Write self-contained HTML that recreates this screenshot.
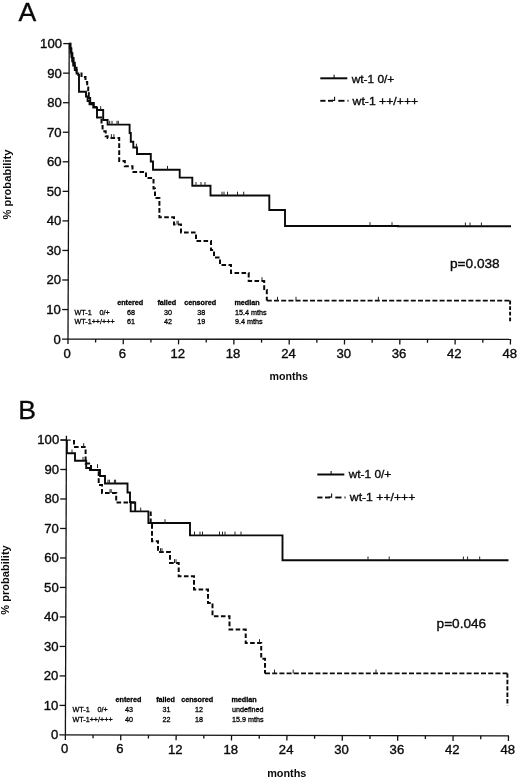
<!DOCTYPE html>
<html><head><meta charset="utf-8"><title>Figure</title>
<style>
html,body{margin:0;padding:0;background:#fff;}
body{width:520px;height:780px;position:relative;overflow:hidden;font-family:"Liberation Sans",sans-serif;}
</style></head><body>
<svg width="520" height="780" viewBox="0 0 520 780" style="position:absolute;left:0;top:0;will-change:transform;opacity:0.999" font-family="Liberation Sans, sans-serif" fill="#0a0a0a" stroke="#0a0a0a" stroke-width="0.35"><text x="18.6" y="20.8" font-size="26.6">A</text><line x1="69.20" y1="43.6" x2="67.98" y2="344.1" stroke="#111" stroke-width="1.3"/><line x1="62.00" y1="339.1" x2="511.1" y2="339.40000000000003" stroke="#111" stroke-width="1.3"/><text x="60.80" y="343.50" text-anchor="end" font-size="12.4" textLength="7.3" lengthAdjust="spacingAndGlyphs">0</text><line x1="62.12" y1="309.55" x2="68.12" y2="309.55" stroke="#111" stroke-width="1.3"/><text x="60.92" y="313.95" text-anchor="end" font-size="12.4" textLength="14.6" lengthAdjust="spacingAndGlyphs">10</text><line x1="62.24" y1="280.00" x2="68.24" y2="280.00" stroke="#111" stroke-width="1.3"/><text x="61.04" y="284.40" text-anchor="end" font-size="12.4" textLength="14.6" lengthAdjust="spacingAndGlyphs">20</text><line x1="62.36" y1="250.45" x2="68.36" y2="250.45" stroke="#111" stroke-width="1.3"/><text x="61.16" y="254.85" text-anchor="end" font-size="12.4" textLength="14.6" lengthAdjust="spacingAndGlyphs">30</text><line x1="62.48" y1="220.90" x2="68.48" y2="220.90" stroke="#111" stroke-width="1.3"/><text x="61.28" y="225.30" text-anchor="end" font-size="12.4" textLength="14.6" lengthAdjust="spacingAndGlyphs">40</text><line x1="62.60" y1="191.35" x2="68.60" y2="191.35" stroke="#111" stroke-width="1.3"/><text x="61.40" y="195.75" text-anchor="end" font-size="12.4" textLength="14.6" lengthAdjust="spacingAndGlyphs">50</text><line x1="62.72" y1="161.80" x2="68.72" y2="161.80" stroke="#111" stroke-width="1.3"/><text x="61.52" y="166.20" text-anchor="end" font-size="12.4" textLength="14.6" lengthAdjust="spacingAndGlyphs">60</text><line x1="62.84" y1="132.25" x2="68.84" y2="132.25" stroke="#111" stroke-width="1.3"/><text x="61.64" y="136.65" text-anchor="end" font-size="12.4" textLength="14.6" lengthAdjust="spacingAndGlyphs">70</text><line x1="62.96" y1="102.70" x2="68.96" y2="102.70" stroke="#111" stroke-width="1.3"/><text x="61.76" y="107.10" text-anchor="end" font-size="12.4" textLength="14.6" lengthAdjust="spacingAndGlyphs">80</text><line x1="63.08" y1="73.15" x2="69.08" y2="73.15" stroke="#111" stroke-width="1.3"/><text x="61.88" y="77.55" text-anchor="end" font-size="12.4" textLength="14.6" lengthAdjust="spacingAndGlyphs">90</text><line x1="63.20" y1="43.60" x2="69.20" y2="43.60" stroke="#111" stroke-width="1.3"/><text x="62.00" y="48.00" text-anchor="end" font-size="12.4" textLength="21.9" lengthAdjust="spacingAndGlyphs">100</text><line x1="95.66" y1="339.12" x2="95.59" y2="342.52" stroke="#111" stroke-width="1.3"/><line x1="123.31" y1="339.14" x2="123.21" y2="344.34" stroke="#111" stroke-width="1.3"/><line x1="150.97" y1="339.16" x2="150.90" y2="342.56" stroke="#111" stroke-width="1.3"/><line x1="178.62" y1="339.18" x2="178.52" y2="344.38" stroke="#111" stroke-width="1.3"/><line x1="206.28" y1="339.19" x2="206.21" y2="342.59" stroke="#111" stroke-width="1.3"/><line x1="233.94" y1="339.21" x2="233.83" y2="344.41" stroke="#111" stroke-width="1.3"/><line x1="261.59" y1="339.23" x2="261.53" y2="342.63" stroke="#111" stroke-width="1.3"/><line x1="289.25" y1="339.25" x2="289.15" y2="344.45" stroke="#111" stroke-width="1.3"/><line x1="316.91" y1="339.27" x2="316.84" y2="342.67" stroke="#111" stroke-width="1.3"/><line x1="344.56" y1="339.29" x2="344.46" y2="344.49" stroke="#111" stroke-width="1.3"/><line x1="372.22" y1="339.31" x2="372.15" y2="342.71" stroke="#111" stroke-width="1.3"/><line x1="399.88" y1="339.33" x2="399.77" y2="344.53" stroke="#111" stroke-width="1.3"/><line x1="427.53" y1="339.34" x2="427.46" y2="342.74" stroke="#111" stroke-width="1.3"/><line x1="455.19" y1="339.36" x2="455.08" y2="344.56" stroke="#111" stroke-width="1.3"/><line x1="482.84" y1="339.38" x2="482.78" y2="342.78" stroke="#111" stroke-width="1.3"/><line x1="510.50" y1="339.40" x2="510.40" y2="344.60" stroke="#111" stroke-width="1.3"/><text x="67.20" y="357.50" text-anchor="middle" font-size="12.4" textLength="7.3" lengthAdjust="spacingAndGlyphs">0</text><text x="122.51" y="357.54" text-anchor="middle" font-size="12.4" textLength="7.3" lengthAdjust="spacingAndGlyphs">6</text><text x="177.82" y="357.57" text-anchor="middle" font-size="12.4" textLength="14.6" lengthAdjust="spacingAndGlyphs">12</text><text x="233.14" y="357.61" text-anchor="middle" font-size="12.4" textLength="14.6" lengthAdjust="spacingAndGlyphs">18</text><text x="288.45" y="357.65" text-anchor="middle" font-size="12.4" textLength="14.6" lengthAdjust="spacingAndGlyphs">24</text><text x="343.76" y="357.69" text-anchor="middle" font-size="12.4" textLength="14.6" lengthAdjust="spacingAndGlyphs">30</text><text x="399.07" y="357.73" text-anchor="middle" font-size="12.4" textLength="14.6" lengthAdjust="spacingAndGlyphs">36</text><text x="454.39" y="357.76" text-anchor="middle" font-size="12.4" textLength="14.6" lengthAdjust="spacingAndGlyphs">42</text><text x="509.70" y="357.80" text-anchor="middle" font-size="12.4" textLength="14.6" lengthAdjust="spacingAndGlyphs">48</text><path d="M69.20,43.60 L69.80,43.60 L69.80,48.00 L70.60,48.00 L70.60,52.40 L71.40,52.40 L71.40,56.80 L72.20,56.80 L72.20,61.20 L73.20,61.20 L73.20,65.60 L74.80,65.60 L74.80,70.00 L76.60,70.00 L76.60,73.50 L78.30,73.50 L78.30,75.00 L79.00,75.00 L79.00,91.80 L86.00,91.80 L86.00,96.50 L87.60,96.50 L87.60,101.00 L89.50,101.00 L89.50,104.40 L93.30,104.40 L93.30,107.50 L97.00,107.50 L97.00,110.00 L103.20,110.00 L103.20,120.00 L107.60,120.00 L107.60,124.60 L129.60,124.60 L129.60,133.00 L130.80,133.00 L130.80,141.80 L133.30,141.80 L133.30,147.50 L137.00,147.50 L137.00,154.00 L150.80,154.00 L150.80,161.50 L153.00,161.50 L153.00,169.70 L179.70,169.70 L179.70,177.60 L192.30,177.60 L192.30,185.80 L210.50,185.80 L210.50,195.50 L269.30,195.50 L269.30,210.00 L285.00,210.00 L285.00,226.00 L398.00,226.00 L398.00,226.30 L511.00,226.30" fill="none" stroke="#0a0a0a" stroke-width="1.9"/><path d="M69.20,43.60 L70.60,43.60 L70.60,48.40 L71.40,48.40 L71.40,53.20 L72.40,53.20 L72.40,58.00 L73.60,58.00 L73.60,62.80 L74.80,62.80 L74.80,67.60 L76.60,67.60 L76.60,72.40" fill="none" stroke="#0a0a0a" stroke-width="1.9"/><path d="M81.50,72.40 L81.50,77.00 L85.50,77.00 L85.50,82.00 L87.20,82.00 L87.20,87.50 L88.20,87.50 L88.20,93.00" fill="none" stroke="#0a0a0a" stroke-width="2" stroke-dasharray="4.6 2.4"/><path d="M88.20,93.00 L88.80,93.00 L88.80,98.00 L90.20,98.00 L90.20,103.00 L93.80,103.00 L93.80,107.00 L97.00,107.00" fill="none" stroke="#0a0a0a" stroke-width="1.9"/><path d="M97,107 V117.5 H102.5" fill="none" stroke="#0a0a0a" stroke-width="1.9"/><path d="M101.50,117.50 L101.50,126.00 L102.60,126.00 L102.60,131.20 L105.70,131.20 L105.70,136.20 L107.60,136.20 L107.60,138.00 L119.20,138.00 L119.20,161.00 L124.80,161.00 L124.80,166.30 L132.50,166.30 L132.50,172.00 L146.00,172.00 L146.00,178.00 L153.50,178.00 L153.50,188.50 L155.00,188.50 L155.00,198.00 L159.40,198.00 L159.40,217.30 L174.00,217.30 L174.00,224.60 L181.00,224.60 L181.00,232.50 L196.00,232.50 L196.00,241.00 L211.00,241.00 L211.00,250.00 L214.00,250.00 L214.00,257.50 L220.00,257.50 L220.00,265.00 L231.00,265.00 L231.00,273.00 L248.70,273.00 L248.70,281.00 L264.20,281.00 L264.20,290.00 L266.80,290.00 L266.80,300.60" fill="none" stroke="#0a0a0a" stroke-width="2" stroke-dasharray="4.6 2.4" stroke-dashoffset="-1.5"/><path d="M266.80,300.60 L510.10,300.60" fill="none" stroke="#0a0a0a" stroke-width="1.9" stroke-dasharray="5 2.2"/><path d="M510.10,300.60 L510.10,321.40" fill="none" stroke="#0a0a0a" stroke-width="1.9" stroke-dasharray="3.8 1.8"/><line x1="100.7" y1="110" x2="100.7" y2="106.2" stroke="#222" stroke-width="1.0"/><line x1="109.7" y1="124.6" x2="109.7" y2="120.8" stroke="#222" stroke-width="1.0"/><line x1="112" y1="124.6" x2="112" y2="120.8" stroke="#222" stroke-width="1.0"/><line x1="117" y1="124.6" x2="117" y2="120.8" stroke="#222" stroke-width="1.0"/><line x1="118.3" y1="124.6" x2="118.3" y2="120.8" stroke="#222" stroke-width="1.0"/><line x1="136.4" y1="147.5" x2="136.4" y2="143.7" stroke="#222" stroke-width="1.0"/><line x1="167.5" y1="169.7" x2="167.5" y2="165.89999999999998" stroke="#222" stroke-width="1.0"/><line x1="196" y1="185.8" x2="196" y2="182.0" stroke="#222" stroke-width="1.0"/><line x1="201" y1="185.8" x2="201" y2="182.0" stroke="#222" stroke-width="1.0"/><line x1="205" y1="185.8" x2="205" y2="182.0" stroke="#222" stroke-width="1.0"/><line x1="222" y1="195.5" x2="222" y2="191.7" stroke="#222" stroke-width="1.0"/><line x1="224" y1="195.5" x2="224" y2="191.7" stroke="#222" stroke-width="1.0"/><line x1="227.5" y1="195.5" x2="227.5" y2="191.7" stroke="#222" stroke-width="1.0"/><line x1="237.5" y1="195.5" x2="237.5" y2="191.7" stroke="#222" stroke-width="1.0"/><line x1="243.7" y1="195.5" x2="243.7" y2="191.7" stroke="#222" stroke-width="1.0"/><line x1="370" y1="226" x2="370" y2="222.2" stroke="#222" stroke-width="1.0"/><line x1="392" y1="226" x2="392" y2="222.2" stroke="#222" stroke-width="1.0"/><line x1="465.4" y1="226.3" x2="465.4" y2="222.5" stroke="#222" stroke-width="1.0"/><line x1="470" y1="226.3" x2="470" y2="222.5" stroke="#222" stroke-width="1.0"/><line x1="481.4" y1="226.3" x2="481.4" y2="222.5" stroke="#222" stroke-width="1.0"/><line x1="111.4" y1="138" x2="111.4" y2="134.2" stroke="#222" stroke-width="1.0"/><line x1="113.9" y1="138" x2="113.9" y2="134.2" stroke="#222" stroke-width="1.0"/><line x1="177" y1="224.6" x2="177" y2="220.79999999999998" stroke="#222" stroke-width="1.0"/><line x1="178.2" y1="224.6" x2="178.2" y2="220.79999999999998" stroke="#222" stroke-width="1.0"/><line x1="262" y1="281" x2="262" y2="277.2" stroke="#222" stroke-width="1.0"/><line x1="277.5" y1="300.6" x2="277.5" y2="296.8" stroke="#222" stroke-width="1.0"/><line x1="296" y1="300.6" x2="296" y2="296.8" stroke="#222" stroke-width="1.0"/><line x1="378.4" y1="300.6" x2="378.4" y2="296.8" stroke="#222" stroke-width="1.0"/><text transform="translate(11.3,184.6) rotate(-90)" text-anchor="middle" font-size="11.1" font-weight="bold" stroke="none" textLength="70" lengthAdjust="spacingAndGlyphs">% probability</text><text x="288.7" y="380.2" text-anchor="middle" font-size="10.9" font-weight="bold" stroke="none" textLength="38.4" lengthAdjust="spacingAndGlyphs">months</text><line x1="320.3" y1="78.3" x2="347.3" y2="78.3" stroke="#0a0a0a" stroke-width="2"/><line x1="334.1" y1="78.3" x2="334.1" y2="74.7" stroke="#111" stroke-width="1.1"/><line x1="320.3" y1="100.8" x2="325.5" y2="100.8" stroke="#0a0a0a" stroke-width="1.9"/><line x1="328.0" y1="100.8" x2="333.0" y2="100.8" stroke="#0a0a0a" stroke-width="1.9"/><line x1="338.3" y1="100.8" x2="344.5" y2="100.8" stroke="#0a0a0a" stroke-width="1.9"/><line x1="347.5" y1="100.8" x2="348.5" y2="100.8" stroke="#0a0a0a" stroke-width="1.9"/><path d="M331.8,100.39999999999999 H334.6 V96.8" fill="none" stroke="#111" stroke-width="1.1"/><text x="351.7" y="82.7" font-size="11.5" textLength="42.6" lengthAdjust="spacingAndGlyphs">wt-1 0/+</text><text x="352.6" y="104.8" font-size="11.5" textLength="65.6" lengthAdjust="spacingAndGlyphs">wt-1 ++/+++</text><text x="450" y="267.6" font-size="13.3" textLength="49.7" lengthAdjust="spacingAndGlyphs">p=0.038</text><g font-size="7.2" fill="#000" stroke="#000" stroke-width="0.3"><text x="130.2" y="305.2" text-anchor="middle" font-weight="bold">entered</text><text x="166.8" y="305.2" text-anchor="middle" font-weight="bold">failed</text><text x="200.2" y="305.2" text-anchor="middle" font-weight="bold">censored</text><text x="247" y="305.2" text-anchor="middle" font-weight="bold">median</text><text x="74.5" y="315.2" text-anchor="start">WT-1</text><text x="99.5" y="315.2" text-anchor="start">0/+</text><text x="131" y="315.2" text-anchor="middle">68</text><text x="168" y="315.2" text-anchor="middle">30</text><text x="201.2" y="315.2" text-anchor="middle">38</text><text x="235" y="315.2" text-anchor="start">15.4 mths</text><text x="74.5" y="324.2" text-anchor="start">WT-1++/+++</text><text x="131" y="324.2" text-anchor="middle">61</text><text x="168" y="324.2" text-anchor="middle">42</text><text x="201.2" y="324.2" text-anchor="middle">19</text><text x="235" y="324.2" text-anchor="start">9.4 mths</text></g><text x="18.3" y="419.2" font-size="26.6">B</text><line x1="66.41" y1="435.8" x2="65.38" y2="739.9" stroke="#111" stroke-width="1.3"/><line x1="59.40" y1="734.9" x2="509.1" y2="735.9" stroke="#111" stroke-width="1.3"/><text x="58.20" y="739.30" text-anchor="end" font-size="12.4" textLength="7.3" lengthAdjust="spacingAndGlyphs">0</text><line x1="59.50" y1="705.41" x2="65.50" y2="705.41" stroke="#111" stroke-width="1.3"/><text x="58.30" y="709.81" text-anchor="end" font-size="12.4" textLength="14.6" lengthAdjust="spacingAndGlyphs">10</text><line x1="59.60" y1="675.92" x2="65.60" y2="675.92" stroke="#111" stroke-width="1.3"/><text x="58.40" y="680.32" text-anchor="end" font-size="12.4" textLength="14.6" lengthAdjust="spacingAndGlyphs">20</text><line x1="59.70" y1="646.43" x2="65.70" y2="646.43" stroke="#111" stroke-width="1.3"/><text x="58.50" y="650.83" text-anchor="end" font-size="12.4" textLength="14.6" lengthAdjust="spacingAndGlyphs">30</text><line x1="59.80" y1="616.94" x2="65.80" y2="616.94" stroke="#111" stroke-width="1.3"/><text x="58.60" y="621.34" text-anchor="end" font-size="12.4" textLength="14.6" lengthAdjust="spacingAndGlyphs">40</text><line x1="59.90" y1="587.45" x2="65.90" y2="587.45" stroke="#111" stroke-width="1.3"/><text x="58.70" y="591.85" text-anchor="end" font-size="12.4" textLength="14.6" lengthAdjust="spacingAndGlyphs">50</text><line x1="60.00" y1="557.96" x2="66.00" y2="557.96" stroke="#111" stroke-width="1.3"/><text x="58.80" y="562.36" text-anchor="end" font-size="12.4" textLength="14.6" lengthAdjust="spacingAndGlyphs">60</text><line x1="60.10" y1="528.47" x2="66.10" y2="528.47" stroke="#111" stroke-width="1.3"/><text x="58.90" y="532.87" text-anchor="end" font-size="12.4" textLength="14.6" lengthAdjust="spacingAndGlyphs">70</text><line x1="60.20" y1="498.98" x2="66.20" y2="498.98" stroke="#111" stroke-width="1.3"/><text x="59.00" y="503.38" text-anchor="end" font-size="12.4" textLength="14.6" lengthAdjust="spacingAndGlyphs">80</text><line x1="60.30" y1="469.49" x2="66.30" y2="469.49" stroke="#111" stroke-width="1.3"/><text x="59.10" y="473.89" text-anchor="end" font-size="12.4" textLength="14.6" lengthAdjust="spacingAndGlyphs">90</text><line x1="60.40" y1="440.00" x2="66.40" y2="440.00" stroke="#111" stroke-width="1.3"/><text x="59.20" y="444.40" text-anchor="end" font-size="12.4" textLength="21.9" lengthAdjust="spacingAndGlyphs">100</text><line x1="93.09" y1="734.96" x2="93.03" y2="738.36" stroke="#111" stroke-width="1.3"/><line x1="120.79" y1="735.02" x2="120.68" y2="740.23" stroke="#111" stroke-width="1.3"/><line x1="148.48" y1="735.09" x2="148.41" y2="738.49" stroke="#111" stroke-width="1.3"/><line x1="176.18" y1="735.15" x2="176.07" y2="740.35" stroke="#111" stroke-width="1.3"/><line x1="203.87" y1="735.21" x2="203.80" y2="738.61" stroke="#111" stroke-width="1.3"/><line x1="231.56" y1="735.27" x2="231.46" y2="740.48" stroke="#111" stroke-width="1.3"/><line x1="259.26" y1="735.34" x2="259.19" y2="738.74" stroke="#111" stroke-width="1.3"/><line x1="286.95" y1="735.40" x2="286.85" y2="740.60" stroke="#111" stroke-width="1.3"/><line x1="314.64" y1="735.46" x2="314.58" y2="738.86" stroke="#111" stroke-width="1.3"/><line x1="342.34" y1="735.52" x2="342.23" y2="740.73" stroke="#111" stroke-width="1.3"/><line x1="370.03" y1="735.59" x2="369.96" y2="738.99" stroke="#111" stroke-width="1.3"/><line x1="397.73" y1="735.65" x2="397.62" y2="740.85" stroke="#111" stroke-width="1.3"/><line x1="425.42" y1="735.71" x2="425.35" y2="739.11" stroke="#111" stroke-width="1.3"/><line x1="453.11" y1="735.77" x2="453.01" y2="740.98" stroke="#111" stroke-width="1.3"/><line x1="480.81" y1="735.84" x2="480.74" y2="739.24" stroke="#111" stroke-width="1.3"/><line x1="508.50" y1="735.90" x2="508.40" y2="741.10" stroke="#111" stroke-width="1.3"/><text x="64.60" y="753.30" text-anchor="middle" font-size="12.4" textLength="7.3" lengthAdjust="spacingAndGlyphs">0</text><text x="119.99" y="753.42" text-anchor="middle" font-size="12.4" textLength="7.3" lengthAdjust="spacingAndGlyphs">6</text><text x="175.38" y="753.55" text-anchor="middle" font-size="12.4" textLength="14.6" lengthAdjust="spacingAndGlyphs">12</text><text x="230.76" y="753.67" text-anchor="middle" font-size="12.4" textLength="14.6" lengthAdjust="spacingAndGlyphs">18</text><text x="286.15" y="753.80" text-anchor="middle" font-size="12.4" textLength="14.6" lengthAdjust="spacingAndGlyphs">24</text><text x="341.54" y="753.92" text-anchor="middle" font-size="12.4" textLength="14.6" lengthAdjust="spacingAndGlyphs">30</text><text x="396.93" y="754.05" text-anchor="middle" font-size="12.4" textLength="14.6" lengthAdjust="spacingAndGlyphs">36</text><text x="452.31" y="754.17" text-anchor="middle" font-size="12.4" textLength="14.6" lengthAdjust="spacingAndGlyphs">42</text><text x="507.70" y="754.30" text-anchor="middle" font-size="12.4" textLength="14.6" lengthAdjust="spacingAndGlyphs">48</text><line x1="60.6" y1="440.1" x2="70.8" y2="440.1" stroke="#111" stroke-width="1.2"/><path d="M66.90,440.10 L66.90,453.30 L75.00,453.30 L75.00,460.70 L86.20,460.70 L86.20,468.00 L90.00,468.00 L90.00,470.00 L100.00,470.00 L100.00,476.00 L105.00,476.00 L105.00,483.50 L127.50,483.50 L127.50,492.50 L130.00,492.50 L130.00,502.00 L130.70,502.00 L130.70,511.40 L148.40,511.40 L148.40,523.00 L190.00,523.00 L190.00,535.40 L282.50,535.40 L282.50,560.30 L508.50,560.30" fill="none" stroke="#0a0a0a" stroke-width="1.9"/><path d="M74.00,440.00 L74.00,447.00 L85.60,447.00 L85.60,463.50 L91.00,463.50 L91.00,470.00 L98.70,470.00 L98.70,485.00 L102.00,485.00 L102.00,493.00 L116.20,493.00 L116.20,502.50 L135.20,502.50" fill="none" stroke="#0a0a0a" stroke-width="2" stroke-dasharray="4.6 2.4"/><path d="M131,502.5 H135.2 V511.4" fill="none" stroke="#0a0a0a" stroke-width="1.9"/><path d="M150.70,511.40 L150.70,525.00 L152.00,525.00 L152.00,541.30 L158.00,541.30 L158.00,552.00 L170.00,552.00 L170.00,563.00 L178.70,563.00 L178.70,576.20 L194.00,576.20 L194.00,589.50 L208.00,589.50 L208.00,603.00 L212.50,603.00 L212.50,616.20 L229.50,616.20 L229.50,629.50 L245.70,629.50 L245.70,643.00 L261.20,643.00 L261.20,658.70 L265.00,658.70 L265.00,673.40" fill="none" stroke="#0a0a0a" stroke-width="2" stroke-dasharray="4.6 2.4"/><path d="M265.00,673.40 L507.40,673.40" fill="none" stroke="#0a0a0a" stroke-width="1.9" stroke-dasharray="5 2.2"/><path d="M507.40,673.40 L507.40,705.80" fill="none" stroke="#0a0a0a" stroke-width="1.9" stroke-dasharray="4.4 2"/><line x1="72" y1="453.3" x2="72" y2="449.5" stroke="#222" stroke-width="1.0"/><line x1="83" y1="460.7" x2="83" y2="456.9" stroke="#222" stroke-width="1.0"/><line x1="108" y1="483.5" x2="108" y2="479.7" stroke="#222" stroke-width="1.0"/><line x1="109.4" y1="483.5" x2="109.4" y2="479.7" stroke="#222" stroke-width="1.0"/><line x1="114.4" y1="483.5" x2="114.4" y2="479.7" stroke="#222" stroke-width="1.0"/><line x1="115.6" y1="483.5" x2="115.6" y2="479.7" stroke="#222" stroke-width="1.0"/><line x1="140.7" y1="511.4" x2="140.7" y2="507.59999999999997" stroke="#222" stroke-width="1.0"/><line x1="165" y1="523" x2="165" y2="519.2" stroke="#222" stroke-width="1.0"/><line x1="194.5" y1="535.4" x2="194.5" y2="531.6" stroke="#222" stroke-width="1.0"/><line x1="200" y1="535.4" x2="200" y2="531.6" stroke="#222" stroke-width="1.0"/><line x1="202.5" y1="535.4" x2="202.5" y2="531.6" stroke="#222" stroke-width="1.0"/><line x1="219.5" y1="535.4" x2="219.5" y2="531.6" stroke="#222" stroke-width="1.0"/><line x1="222.5" y1="535.4" x2="222.5" y2="531.6" stroke="#222" stroke-width="1.0"/><line x1="225" y1="535.4" x2="225" y2="531.6" stroke="#222" stroke-width="1.0"/><line x1="235" y1="535.4" x2="235" y2="531.6" stroke="#222" stroke-width="1.0"/><line x1="241" y1="535.4" x2="241" y2="531.6" stroke="#222" stroke-width="1.0"/><line x1="368" y1="560.3" x2="368" y2="556.5" stroke="#222" stroke-width="1.0"/><line x1="389.2" y1="560.3" x2="389.2" y2="556.5" stroke="#222" stroke-width="1.0"/><line x1="463.4" y1="560.3" x2="463.4" y2="556.5" stroke="#222" stroke-width="1.0"/><line x1="467.6" y1="560.3" x2="467.6" y2="556.5" stroke="#222" stroke-width="1.0"/><line x1="479.7" y1="560.3" x2="479.7" y2="556.5" stroke="#222" stroke-width="1.0"/><line x1="83.7" y1="447" x2="83.7" y2="443.2" stroke="#222" stroke-width="1.0"/><line x1="97.5" y1="468" x2="97.5" y2="464.2" stroke="#222" stroke-width="1.0"/><line x1="110" y1="493" x2="110" y2="489.2" stroke="#222" stroke-width="1.0"/><line x1="111.2" y1="493" x2="111.2" y2="489.2" stroke="#222" stroke-width="1.0"/><line x1="160.5" y1="552" x2="160.5" y2="548.2" stroke="#222" stroke-width="1.0"/><line x1="162" y1="552" x2="162" y2="548.2" stroke="#222" stroke-width="1.0"/><line x1="174.5" y1="563" x2="174.5" y2="559.2" stroke="#222" stroke-width="1.0"/><line x1="176" y1="563" x2="176" y2="559.2" stroke="#222" stroke-width="1.0"/><line x1="259.5" y1="643" x2="259.5" y2="639.2" stroke="#222" stroke-width="1.0"/><line x1="274.5" y1="673.4" x2="274.5" y2="669.6" stroke="#222" stroke-width="1.0"/><line x1="293.2" y1="673.4" x2="293.2" y2="669.6" stroke="#222" stroke-width="1.0"/><line x1="376" y1="673.4" x2="376" y2="669.6" stroke="#222" stroke-width="1.0"/><text transform="translate(8.7,580) rotate(-90)" text-anchor="middle" font-size="11.1" font-weight="bold" stroke="none" textLength="69.4" lengthAdjust="spacingAndGlyphs">% probability</text><text x="286.8" y="776.5" text-anchor="middle" font-size="10.9" font-weight="bold" stroke="none" textLength="39.2" lengthAdjust="spacingAndGlyphs">months</text><line x1="317.3" y1="474.5" x2="344.3" y2="474.5" stroke="#0a0a0a" stroke-width="2"/><line x1="331.1" y1="474.5" x2="331.1" y2="470.9" stroke="#111" stroke-width="1.1"/><line x1="317.3" y1="497.5" x2="322.5" y2="497.5" stroke="#0a0a0a" stroke-width="1.9"/><line x1="325.0" y1="497.5" x2="330.0" y2="497.5" stroke="#0a0a0a" stroke-width="1.9"/><line x1="335.3" y1="497.5" x2="341.5" y2="497.5" stroke="#0a0a0a" stroke-width="1.9"/><line x1="344.5" y1="497.5" x2="345.5" y2="497.5" stroke="#0a0a0a" stroke-width="1.9"/><path d="M328.8,497.1 H331.6 V493.5" fill="none" stroke="#111" stroke-width="1.1"/><text x="348.7" y="478.4" font-size="11.5" textLength="42.6" lengthAdjust="spacingAndGlyphs">wt-1 0/+</text><text x="349.8" y="500.9" font-size="11.5" textLength="65.6" lengthAdjust="spacingAndGlyphs">wt-1 ++/+++</text><text x="436.6" y="627.6" font-size="13.3" textLength="49.6" lengthAdjust="spacingAndGlyphs">p=0.046</text><g font-size="7.2" fill="#000" stroke="#000" stroke-width="0.3"><text x="128.5" y="701.5" text-anchor="middle" font-weight="bold">entered</text><text x="165.6" y="701.5" text-anchor="middle" font-weight="bold">failed</text><text x="197.2" y="701.5" text-anchor="middle" font-weight="bold">censored</text><text x="244" y="701.5" text-anchor="middle" font-weight="bold">median</text><text x="72.5" y="711.5" text-anchor="start">WT-1</text><text x="97.5" y="711.5" text-anchor="start">0/+</text><text x="129" y="711.5" text-anchor="middle">43</text><text x="166.5" y="711.5" text-anchor="middle">31</text><text x="199" y="711.5" text-anchor="middle">12</text><text x="232" y="711.5" text-anchor="start">undefined</text><text x="72.5" y="721.5" text-anchor="start">WT-1++/+++</text><text x="129" y="721.5" text-anchor="middle">40</text><text x="166.5" y="721.5" text-anchor="middle">22</text><text x="199" y="721.5" text-anchor="middle">18</text><text x="232" y="721.5" text-anchor="start">15.9 mths</text></g></svg>
</body></html>
